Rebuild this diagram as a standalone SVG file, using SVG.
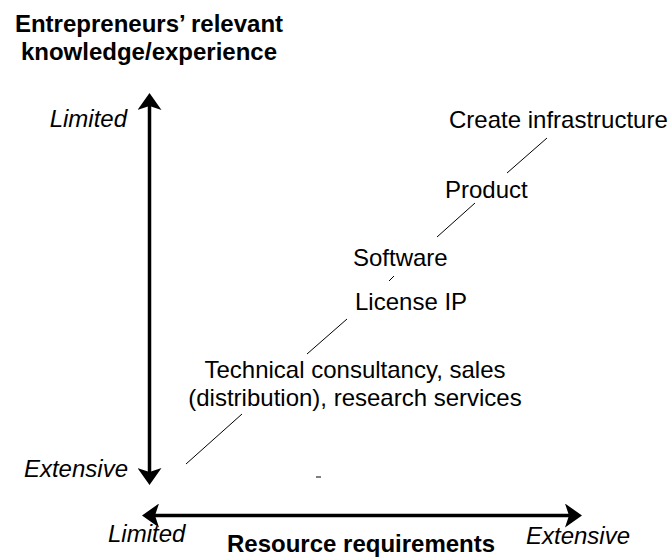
<svg xmlns="http://www.w3.org/2000/svg" width="668" height="558" viewBox="0 0 668 558">
<style>
text{font-family:"Liberation Sans",Arial,Helvetica,sans-serif;font-size:24px;fill:#000}
.b{font-weight:bold}
.i{font-style:italic}
.axis{stroke:#000;stroke-width:3.5;fill:none}
.diag{stroke:#000;stroke-width:1;fill:none}
</style>
<defs>
<marker id="ah" markerUnits="userSpaceOnUse" viewBox="0 0 17 24" refX="4" refY="12" markerWidth="17" markerHeight="24" orient="auto-start-reverse">
<path d="M0,0 L17,12 L0,24 L4,12 Z" fill="#000"/>
</marker>
</defs>
<rect width="668" height="558" fill="#fff"/>
<g id="title">
<text class="b" x="149" y="32" text-anchor="middle">Entrepreneurs’ relevant</text>
<text class="b" x="149" y="60" text-anchor="middle">knowledge/experience</text>
</g>
<g id="y-axis-labels">
<text class="i" x="127" y="127" text-anchor="end">Limited</text>
<text class="i" x="128" y="477" text-anchor="end">Extensive</text>
</g>
<g id="x-axis-labels">
<text class="i" x="108" y="542">Limited</text>
<text class="b" x="227" y="552">Resource requirements</text>
<text class="i" x="526" y="544">Extensive</text>
</g>
<g id="connectors">
<line class="axis" x1="149.5" y1="106" x2="149.5" y2="472" marker-start="url(#ah)" marker-end="url(#ah)"/>
<line class="axis" x1="155" y1="515.5" x2="569" y2="515.5" marker-start="url(#ah)" marker-end="url(#ah)"/>
<line class="diag" x1="186" y1="464" x2="242" y2="414"/>
<line class="diag" x1="307" y1="354" x2="347" y2="319"/>
<line class="diag" x1="389" y1="281" x2="394" y2="276"/>
<line class="diag" x1="437" y1="237" x2="475" y2="203"/>
<line class="diag" x1="507" y1="173" x2="547" y2="138"/>
<line x1="316" y1="477" x2="321" y2="477" stroke="#000" stroke-width="1"/>
</g>
<g id="node-infrastructure">
<text x="449" y="128">Create infrastructure</text>
</g>
<g id="node-product">
<text x="445" y="198">Product</text>
</g>
<g id="node-software">
<text x="353" y="266">Software</text>
</g>
<g id="node-license">
<text x="355" y="310">License IP</text>
</g>
<g id="node-services">
<text x="355" y="378" text-anchor="middle">Technical consultancy, sales</text>
<text x="355" y="406" text-anchor="middle">(distribution), research services</text>
</g>
</svg>
